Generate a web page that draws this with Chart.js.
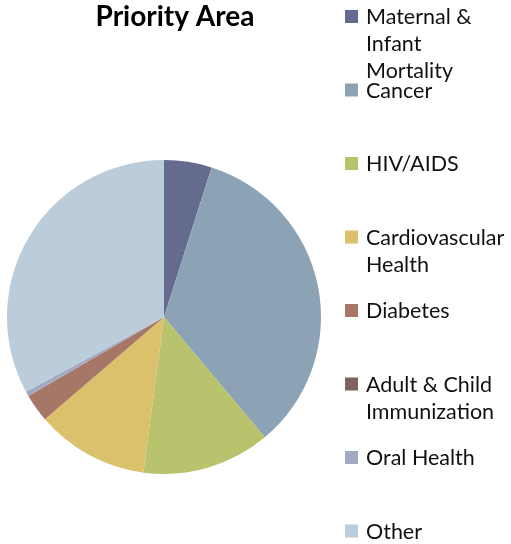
<!DOCTYPE html>
<html>
<head>
<meta charset="utf-8">
<script src="https://cdn.jsdelivr.net/npm/chart.js@4.4.1/dist/chart.umd.min.js"></script>
<style>
  html, body { margin: 0; padding: 0; background: #fff; }
  #wrap { width: 511px; height: 544px; position: relative; }
</style>
</head>
<body>
<div id="wrap"><canvas id="myChart" width="511" height="544"></canvas></div>
<script>
// values (share of total, %)
const categories = ['Maternal & Infant Mortality', 'Cancer', 'HIV/AIDS', 'Cardiovascular Health',
    'Diabetes', 'Adult & Child Immunization', 'Oral Health', 'Other'];
const legendLines = [['Maternal &', 'Infant', 'Mortality'], ['Cancer'], ['HIV/AIDS'],
    ['Cardiovascular', 'Health'], ['Diabetes'], ['Adult & Child', 'Immunization'], ['Oral Health'], ['Other']];
const shares = [4.9, 34.0, 13.2, 11.6, 2.9, 0, 0.5, 32.9];
const colors = ['#646b8e', '#8ca3b5', '#b9c26d', '#dcc16c', '#a67766', '#7e625b', '#a3a9c3', '#bbccda'];
const titleText = 'Priority Area';

// title + legend drawn by hand so the spacing matches the original
const sideLegend = {
    id: 'sideLegend',
    afterDraw(chart) {
        const ctx = chart.ctx;
        ctx.save();
        ctx.fillStyle = '#000';
        ctx.textAlign = 'center';
        ctx.textBaseline = 'alphabetic';
        ctx.font = 'bold 28px Lato';
        ctx.fillText(titleText, 175, 26);

        ctx.textAlign = 'left';
        ctx.font = '21.5px Lato';
        legendLines.forEach((lines, i) => {
            const base = 24 + i * 73.5;
            ctx.fillStyle = colors[i];
            ctx.fillRect(345, base - 14, 13, 13);
            ctx.fillStyle = '#111';
            lines.forEach((t, j) => ctx.fillText(t, 366, base + j * 27));
        });
        ctx.restore();
    }
};

new Chart(document.getElementById('myChart'), {
    type: 'pie',
    data: {
        labels: categories,
        datasets: [{
            data: shares,
            backgroundColor: colors,
            borderWidth: 0
        }]
    },
    options: {
        responsive: false,
        animation: false,
        layout: { padding: { left: 7, right: 190, top: 160, bottom: 70 } },
        plugins: {
            legend: { display: false },
            title: { display: false },
            tooltip: { enabled: false }
        }
    },
    plugins: [sideLegend]
});
</script>
</body>
</html>
